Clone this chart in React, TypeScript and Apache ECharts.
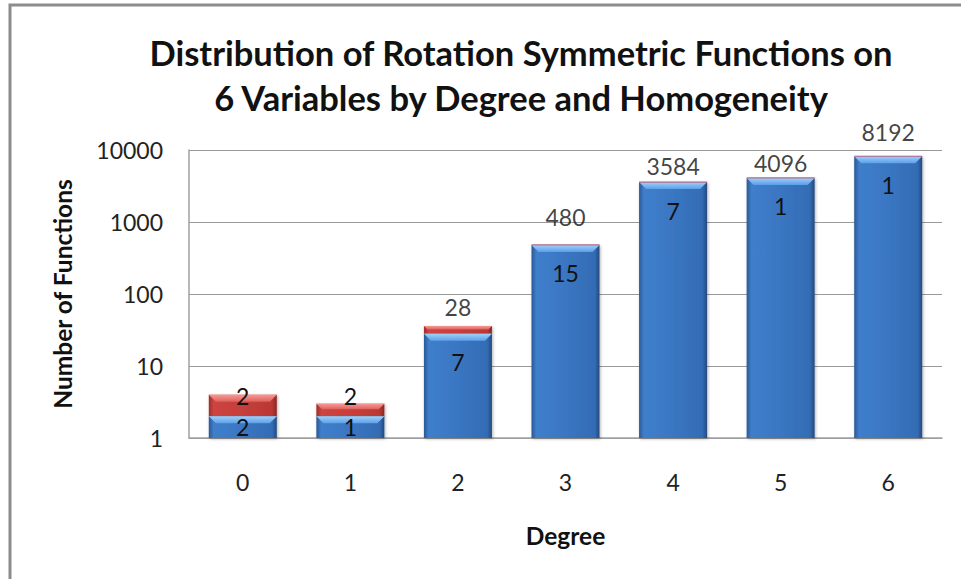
import React, { useEffect, useRef } from "react";
import * as echarts from "echarts";

const categories = ["0", "1", "2", "3", "4", "5", "6"];
// stacked values (Excel log-scale stacked column)
const homogeneousValues = [2, 2, 28, 480, 3584, 4096, 8192];
const otherValues = [2, 1, 8, 0, 0, 0, 0];
// data labels shown in the chart
const blueLabels = ["2", "1", "7", "15", "7", "1", "1"];
const redLabels = ["2", "2", "", "", "", "", ""];
const topLabels = ["", "", "28", "480", "3584", "4096", "8192"];
const yTicks = [1, 10, 100, 1000, 10000];

const FONT = "Lato";
const BAR_W = 68;

export default function App() {
  const ref = useRef<HTMLDivElement>(null);
  useEffect(() => {
    if (!ref.current) return;
    const chart = echarts.init(ref.current, null, { renderer: "svg" });
    const totals = homogeneousValues.map((v, i) => v + otherValues[i]);
    const blueFill = new echarts.graphic.LinearGradient(0, 0, 1, 0, [
      { offset: 0, color: "#2a5894" },
      { offset: 0.07, color: "#3f7ecb" },
      { offset: 0.5, color: "#3a76c2" },
      { offset: 0.93, color: "#336cb4" },
      { offset: 1, color: "#234a80" },
    ]);
    const redFill = new echarts.graphic.LinearGradient(0, 0, 1, 0, [
      { offset: 0, color: "#9a2d2a" },
      { offset: 0.07, color: "#cc4440" },
      { offset: 0.5, color: "#c63f3b" },
      { offset: 0.93, color: "#b93834" },
      { offset: 1, color: "#8a2724" },
    ]);
    const centeredBlue: Record<number, boolean> = { 0: true, 1: true };
    const redOffsets: Record<number, number> = { 0: -9, 1: -14 };
    const topOffsets = [0, 0, -2.5, -11.5, 0, 1.5, -7.5];

    const bevel = (x: number, y: number, w: number, h: number, colors: string[]) => ({
      type: "polygon",
      shape: {
        points: [
          [x, y],
          [x + w, y],
          [x + w - h, y + h],
          [x + h, y + h],
        ],
      },
      style: {
        fill: new echarts.graphic.LinearGradient(0, 0, 0, 1, [
          { offset: 0, color: colors[0] },
          { offset: 1, color: colors[1] },
        ]),
      },
      silent: true,
    });
    const txt = (text: string, x: number, y: number) => ({
      type: "text",
      x,
      y,
      z2: 20,
      silent: true,
      style: {
        text,
        fontFamily: FONT,
        fontSize: 23,
        fill: "#111",
        align: "center",
        verticalAlign: "middle",
      },
    });

    const labelStyle = { fontFamily: FONT, fontSize: 23, color: "#111" };

    chart.setOption({
      animation: false,
      backgroundColor: "#ffffff",
      title: {
        text: "Distribution of Rotation Symmetric Functions on\n6 Variables by Degree and Homogeneity",
        left: 516,
        top: 25,
        textAlign: "center",
        textStyle: {
          fontFamily: FONT,
          fontWeight: "bold",
          fontSize: 34.5,
          lineHeight: 45,
          color: "#111",
        },
      },
      graphic: [
        {
          type: "rect",
          shape: { x: 10, y: 5, width: 1200, height: 1000 },
          style: { fill: "none", stroke: "#8c8c8c", lineWidth: 3 },
          silent: true,
        },
      ],
      grid: { left: 189, right: 19, top: 150, bottom: 141 },
      xAxis: {
        type: "category",
        data: categories,
        name: "Degree",
        nameLocation: "middle",
        nameGap: 85,
        nameTextStyle: { fontFamily: FONT, fontWeight: "bold", fontSize: 24.5, color: "#111" },
        axisLine: { lineStyle: { color: "#a0a0a0", width: 1.5 } },
        axisTick: { show: false },
        axisLabel: { fontFamily: FONT, fontSize: 23, color: "#222", margin: 32 },
      },
      yAxis: {
        type: "log",
        logBase: 10,
        min: 1,
        max: 10000,
        name: "Number of Functions",
        nameLocation: "middle",
        nameGap: 114,
        nameTextStyle: { fontFamily: FONT, fontWeight: "bold", fontSize: 24.5, color: "#111" },
        axisLine: { show: true, lineStyle: { color: "#a0a0a0", width: 1.5 } },
        axisTick: { show: false },
        splitLine: { lineStyle: { color: "#9a9a9a", width: 1 } },
        axisLabel: {
          fontFamily: FONT,
          fontSize: 23,
          color: "#222",
          margin: 26,
          formatter: (v: number) => (yTicks.includes(Math.round(v)) ? String(Math.round(v)) : ""),
        },
      },
      series: [
        {
          type: "bar",
          stack: "total",
          barWidth: BAR_W,
          z: 2,
          data: homogeneousValues,
          itemStyle: { color: blueFill, shadowColor: "rgba(0,0,0,0.3)", shadowBlur: 3, shadowOffsetX: 1, shadowOffsetY: 1 },
        },
        {
          type: "bar",
          stack: "total",
          barWidth: BAR_W,
          z: 2,
          data: otherValues.map((v) => (v > 0 ? v : "-")),
          itemStyle: { color: redFill, shadowColor: "rgba(0,0,0,0.3)", shadowBlur: 3, shadowOffsetX: 1, shadowOffsetY: 1 },
        },
        {
          type: "custom",
          silent: true,
          z: 4,
          data: homogeneousValues.map((v, i) => [i, v, totals[i]]),
          renderItem: (params: any, api: any) => {
            const i = api.value(0);
            const blueTop = api.coord([i, api.value(1)]);
            const base = api.coord([i, 1]);
            const redTop = api.coord([i, api.value(2)]);
            const cx = blueTop[0];
            const x = cx - BAR_W / 2;
            const children: any[] = [];
            children.push(bevel(x, blueTop[1], BAR_W, 7, ["#9fd0fa", "#5c9fe8"]));
            if (redTop[1] < blueTop[1] - 1) {
              children.push(bevel(x, redTop[1], BAR_W, Math.min(7, (blueTop[1] - redTop[1]) * 0.45), ["#f59a97", "#e0605c"]));
            } else {
              children.push({
                type: "line",
                shape: { x1: x, y1: blueTop[1], x2: x + BAR_W, y2: blueTop[1] },
                style: { stroke: "#b06a8a", lineWidth: 1.2 },
                silent: true,
              });
            }
            const blueY = centeredBlue[i] ? (blueTop[1] + base[1]) / 2 : blueTop[1] + 28.5;
            children.push(txt(blueLabels[i], cx, blueY));
            if (redLabels[i] !== "") {
              children.push(txt(redLabels[i], cx, (redTop[1] + blueTop[1]) / 2 + (redOffsets[i] || 0)));
            }
            return { type: "group", children };
          },
        },
        {
          type: "scatter",
          symbolSize: 0,
          silent: true,
          z: 5,
          data: totals.map((v, i) => ({
            value: v,
            label: {
              show: topLabels[i] !== "",
              position: "top",
              distance: 5,
              offset: [0, topOffsets[i]],
              formatter: topLabels[i],
              ...labelStyle,
            },
          })),
        },
      ],
    });
    return () => chart.dispose();
  }, []);
  return (
    <div
      ref={ref}
      style={{ position: "fixed", left: 0, top: 0, width: 961, height: 579, background: "#fff" }}
    />
  );
}
